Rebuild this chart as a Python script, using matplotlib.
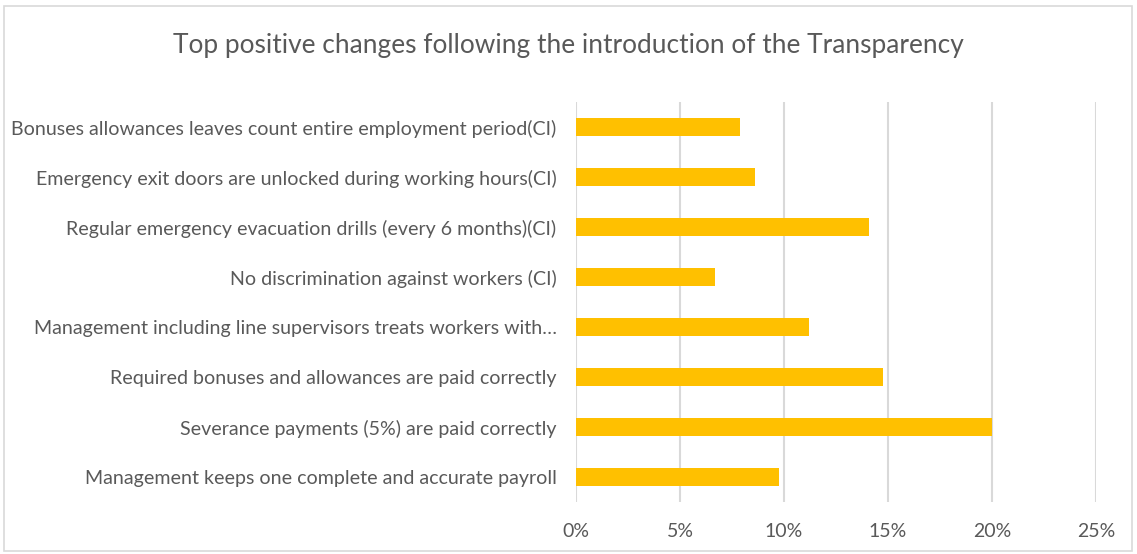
import matplotlib
matplotlib.use("Agg")
import matplotlib.pyplot as plt
from matplotlib.patches import Rectangle
from matplotlib.ticker import FuncFormatter

# ── Data ──────────────────────────────────────────────────────────────────────
labels = [
    "Bonuses allowances leaves count entire employment period(CI)",
    "Emergency exit doors are unlocked during working hours(CI)",
    "Regular emergency evacuation drills (every 6 months)(CI)",
    "No discrimination against workers (CI)",
    "Management including line supervisors treats workers with\u2026",
    "Required bonuses and allowances are paid correctly",
    "Severance payments (5%) are paid correctly",
    "Management keeps one complete and accurate payroll",
]
values = [0.0788, 0.0859, 0.1407, 0.0670, 0.1120, 0.1478, 0.2000, 0.0978]
xticks = [0, 0.05, 0.10, 0.15, 0.20, 0.25]

TXT = "#595959"
GRID = "#d9d9d9"
BAR = "#ffc000"
plt.rcParams["font.family"] = ["Lato", "DejaVu Sans"]

fig = plt.figure(figsize=(11.37, 5.54), dpi=100)
ax = fig.add_axes([576 / 1137, 1 - 502 / 554, 520 / 1137, 400 / 554])

# chart border
fig.patches.append(Rectangle((4 / 1137, 3 / 554), 1128 / 1137, 545 / 554,
                             transform=fig.transFigure, fill=False,
                             edgecolor=GRID, linewidth=1.2))

ypos = list(range(len(labels)))
ax.barh(ypos, values, height=0.36, color=BAR, zorder=3)

ax.set_xlim(0, 0.25)
ax.set_ylim(len(labels) - 0.5, -0.5)
ax.set_xticks(xticks)
ax.xaxis.set_major_formatter(FuncFormatter(lambda v, _: f"{v * 100:.0f}%"))
ax.set_yticks(ypos)
ax.set_yticklabels(labels)
ax.grid(axis="x", color=GRID, linewidth=1.5, zorder=0)
for s in ax.spines.values():
    s.set_visible(False)
ax.tick_params(axis="y", length=0, colors=TXT, labelsize=14.1, pad=14)
ax.tick_params(axis="x", length=0, colors=TXT, labelsize=14, pad=15)

fig.text(0.5, 1 - 45 / 554, "Top positive changes following the introduction of the Transparency",
         ha="center", va="center", fontsize=18.9, color=TXT)

fig.savefig("out.png", dpi=100)
